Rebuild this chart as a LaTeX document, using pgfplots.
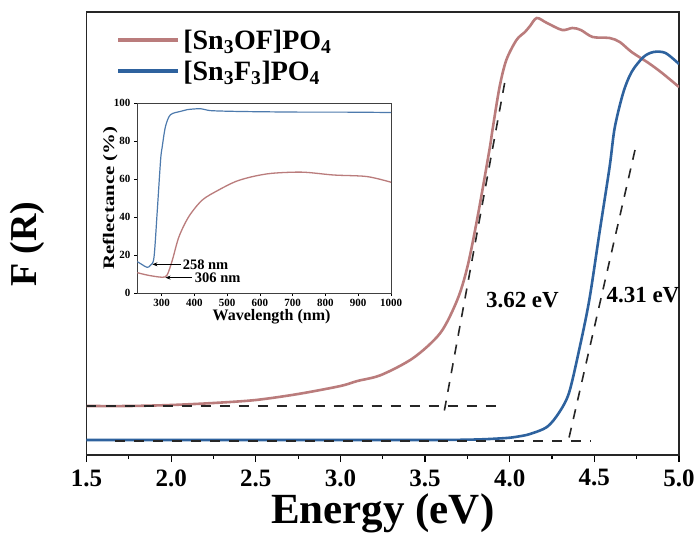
\documentclass[border=0pt]{standalone}
\usepackage{pgfplots}
\pgfplotsset{compat=1.18}
\usepackage{fontspec}
\setmainfont{Liberation Serif}
\usetikzlibrary{arrows.meta}
\definecolor{rcol}{RGB}{186,124,124}
\definecolor{bcol}{RGB}{46,98,158}
\begin{document}
\begin{tikzpicture}
\useasboundingbox (-86.5pt,-78pt) rectangle (613.5pt,455pt);
\begin{axis}[
  at={(0pt,0pt)}, anchor=south west, scale only axis, width=592.5pt, height=443pt,
  xmin=1.5, xmax=5.0, ymin=5, ymax=448,
  xtick={1.5,2.0,...,5.0}, minor x tick num=1, ytick=\empty,
  xtick pos=bottom, tick align=outside, major tick length=7pt, minor tick length=4pt,
  axis line style={line width=1.8pt, black!85},
  every tick/.style={line width=1.2pt,black},
  /pgf/number format/assume math mode=true,
  xticklabel style={font=\fontsize{25}{25}\selectfont\bfseries, yshift=-4pt, /pgf/number format/fixed, /pgf/number format/fixed zerofill, /pgf/number format/precision=1},
  xlabel={Energy (eV)},
  xlabel style={font=\fontsize{43}{43}\selectfont\bfseries, at={(axis description cs:0.5,-0.131)}, anchor=center},
  ylabel={F (R)},
  ylabel style={font=\fontsize{38}{38}\selectfont\bfseries, at={(axis description cs:-0.099,0.476)}, anchor=center},
  legend image code/.code={\draw[#1, line width=4pt] (0pt,0pt) -- (60pt,0pt);},
  legend style={draw=none, fill=none, at={(axis description cs:0.05,0.967)}, anchor=north west,
    font=\fontsize{28}{28}\selectfont\bfseries, row sep=4pt, inner sep=0pt,
    nodes={inner sep=3pt}, /tikz/every even column/.append style={column sep=6pt}},
  legend cell align=left,
]
\addplot[rcol, line width=2.6pt, smooth] coordinates {
(1.5,54) (1.75,54) (2.0,55) (2.25,57) (2.5,60) (2.75,66) (3.0,74) (3.1,79) (3.24,85)
(3.43,102) (3.59,127) (3.69,160) (3.75,193) (3.81,243) (3.88,310) (3.90,332) (3.94,373) (3.98,400)
(4.04,420) (4.09,428) (4.12,434) (4.16,442) (4.22,437) (4.31,430) (4.37,432) (4.42,430) (4.49,423)
(4.59,422) (4.65,418) (4.72,408) (4.82,397) (4.90,387) (5.0,373)};
\addlegendentry{[Sn\textsubscript{3}OF]PO\textsubscript{4}}
\addplot[bcol, line width=2.6pt, smooth] coordinates {
(1.5,20) (2.5,20) (3.5,20) (3.8,20.5) (3.98,22) (4.05,23.5) (4.12,26) (4.22,33) (4.29,47) (4.35,67)
(4.41,110) (4.47,160) (4.53,227) (4.59,293) (4.62,332) (4.67,367) (4.72,388) (4.79,403)
(4.85,408) (4.92,407) (5.0,396)};
\addlegendentry{[Sn\textsubscript{3}F\textsubscript{3}]PO\textsubscript{4}}
\addplot[black!85, line width=1.6pt, dash pattern=on 10pt off 9pt, forget plot] coordinates {(1.5,54) (3.92,54)};
\addplot[black!85, line width=1.6pt, dash pattern=on 10pt off 9pt, forget plot] coordinates {(3.97,377) (3.607,43)};
\addplot[black!85, line width=1.6pt, dash pattern=on 10pt off 9pt, forget plot] coordinates {(1.67,19) (4.48,19)};
\addplot[black!85, line width=1.6pt, dash pattern=on 10pt off 9pt, forget plot] coordinates {(4.74,310) (4.35,22)};
\node[font=\fontsize{23}{23}\selectfont\bfseries] at (axis cs:4.075,160) {3.62 eV};
\node[font=\fontsize{23}{23}\selectfont\bfseries] at (axis cs:4.787,165) {4.31 eV};
\end{axis}
\begin{axis}[
  at={(50.5pt,162pt)}, anchor=south west, scale only axis, width=254pt, height=190pt,
  xmin=225, xmax=1000, ymin=0, ymax=100,
  xtick={300,400,...,1000}, ytick={0,20,...,100},
  tick align=outside, xtick pos=bottom, ytick pos=left,
  major tick length=3pt,
  axis background/.style={fill=white},
  axis line style={line width=0.8pt, black!75},
  every tick/.style={line width=0.6pt,black},
  /pgf/number format/assume math mode=true,
  tick label style={font=\fontsize{11}{11}\selectfont\bfseries},
  xticklabel style={/pgf/number format/1000 sep={}},
  xlabel={Wavelength (nm)},
  xlabel style={font=\fontsize{16}{16}\selectfont\bfseries, at={(axis description cs:0.53,-0.126)}, anchor=center},
  ylabel={\scalebox{1.3}[1]{Reflectance (\%)}},
  ylabel style={font=\fontsize{16}{16}\selectfont\bfseries, at={(axis description cs:-0.106,0.5)}, anchor=center},
]
\addplot[bcol!85, line width=1.2pt, smooth] coordinates {
(226,16.5) (240,15) (256,13.5) (267,14.7) (277,19) (287,43.7) (297,70) (302,77) (312,87.7)
(327,93.8) (358,95.6) (378,96.5) (419,97) (449,96) (520,95.6) (600,95.4) (723,95.2) (850,95.2) (1000,95)};
\addplot[rcol, line width=1.3pt, smooth] coordinates {
(226,10.7) (260,9.3) (302,8.3) (317,9.5) (333,17.4) (353,29.6) (383,40.2) (424,48.9)
(474,54.2) (525,58.6) (576,61.2) (637,63) (730,63.6) (825,62.1) (926,61.3) (1000,58.3)};
\draw[-{Stealth[length=5pt,width=4pt]}, line width=0.8pt] (axis cs:358,15.1) -- (axis cs:272,15.1);
\node[anchor=west, inner sep=0pt, font=\fontsize{14.5}{14.5}\selectfont\bfseries] at (axis cs:364,15.1) {258 nm};
\draw[-{Stealth[length=5pt,width=4pt]}, line width=0.8pt] (axis cs:393,8.1) -- (axis cs:312,8.1);
\node[anchor=west, inner sep=0pt, font=\fontsize{14.5}{14.5}\selectfont\bfseries] at (axis cs:401,8.1) {306 nm};
\end{axis}
\end{tikzpicture}
\end{document}
